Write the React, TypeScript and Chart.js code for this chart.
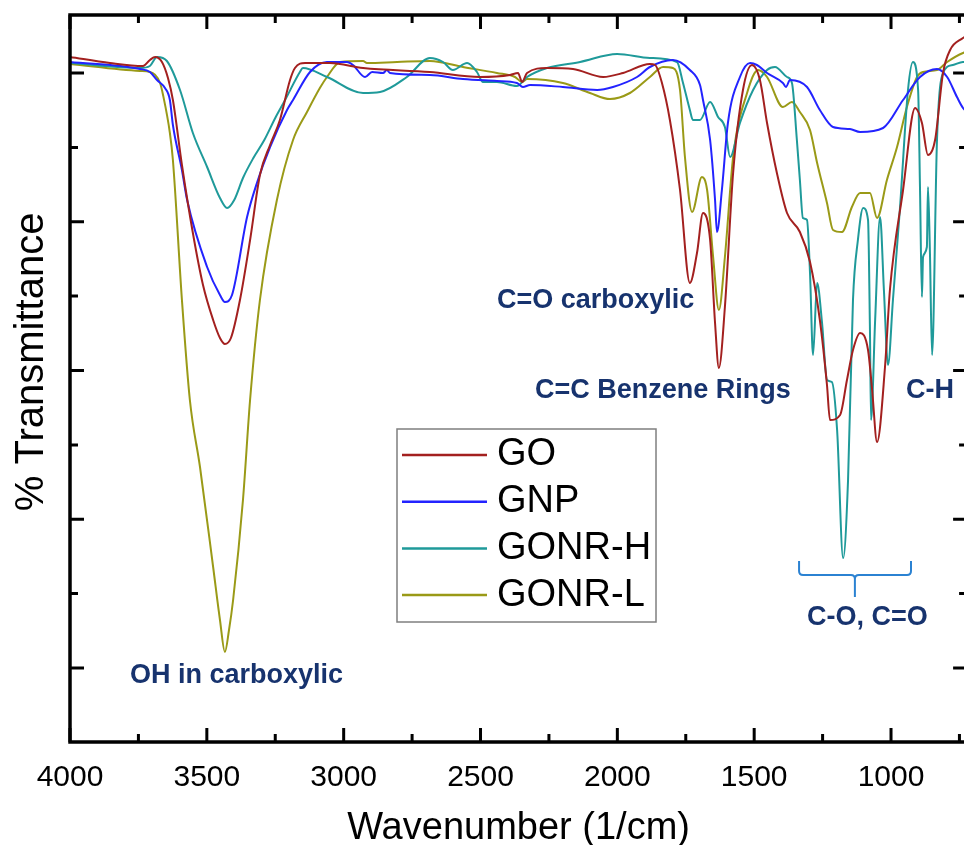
import React, { useEffect, useRef } from "react";
import { Chart, registerables } from "chart.js";

Chart.register(...registerables);

const FONT = "'Liberation Sans', Arial, sans-serif";

const SERIES_LABELS = ["GO", "GNP", "GONR-H", "GONR-L"];
const SERIES_COLORS = ["#a3201f", "#2323ff", "#1f9a9a", "#9a9a17"];

// Wavenumber (1/cm) and transmittance (arbitrary units)
const GO_WN = [4000,3854,3733,3708,3689,3664,3642,3624,3591,3551,3514,3477,3452,3434,3412,3379,3342,3306,3269,3233,3196,3178,3141,3050,2929,2685,2502,2392,2363,2348,2330,2257,2162,2052,1979,1881,1862,1837,1808,1771,1735,1709,1687,1661,1643,1629,1607,1577,1541,1508,1479,1453,1417,1380,1333,1296,1260,1234,1223,1186,1161,1139,1113,1084,1069,1051,1022,1004,956,912,887,865,839,810,784,737,722];
const GO_T = [611,605,602,608,611,606,590,568,503,435,383,348,330,324,330,368,428,493,523,548,588,600,605,605,600,596,591,593,595,586,595,600,599,591,595,604,603,585,548,478,385,415,455,428,345,300,361,495,578,603,588,545,495,455,436,406,348,283,248,253,288,318,335,318,278,226,301,378,478,560,545,513,528,595,618,630,633];

const GNP_WN = [4000,3744,3708,3682,3653,3635,3624,3591,3572,3499,3452,3434,3408,3353,3317,3269,3207,3185,3123,3061,2988,2966,2922,2896,2856,2842,2831,2685,2564,2440,2367,2345,2319,2199,2074,2016,1928,1881,1797,1735,1698,1687,1661,1643,1636,1618,1596,1552,1515,1490,1453,1395,1384,1369,1307,1260,1212,1150,1113,1029,956,894,832,795,759,737,722];
const GNP_T = [606,599,596,588,580,568,543,498,468,401,373,366,373,451,485,521,558,568,596,606,606,603,591,596,595,598,595,593,589,587,585,581,583,581,578,581,591,601,608,598,583,568,528,468,436,478,545,591,605,603,595,585,581,588,581,558,541,539,536,540,568,591,599,591,571,560,556];

const GONRH_WN = [4000,3744,3708,3682,3646,3598,3551,3499,3452,3426,3400,3368,3330,3290,3250,3214,3160,3149,3061,2929,2867,2769,2685,2637,2601,2549,2513,2491,2440,2367,2330,2257,2136,2001,1881,1782,1760,1735,1724,1698,1661,1632,1607,1588,1552,1504,1453,1424,1380,1362,1344,1333,1322,1307,1296,1285,1270,1252,1234,1216,1197,1175,1157,1139,1121,1102,1084,1077,1073,1058,1040,1026,1011,993,967,938,920,901,894,887,883,869,865,858,850,832,810,774,737,722];
const GONRH_T = [605,600,602,611,607,578,535,501,470,460,468,490,510,528,550,568,596,600,591,575,576,591,610,606,598,605,596,586,586,582,591,600,606,614,610,606,585,558,548,548,566,551,541,511,545,578,598,601,591,585,528,488,450,448,395,313,385,345,288,286,238,110,188,368,428,460,448,338,248,348,451,378,303,368,461,578,606,578,478,371,411,421,481,418,313,528,595,603,606,606];

const GONRL_WN = [4000,3744,3708,3671,3660,3635,3624,3591,3562,3525,3477,3452,3434,3419,3404,3368,3342,3306,3244,3185,3134,3087,3061,3013,2929,2915,2805,2685,2564,2440,2374,2348,2330,2199,2100,2027,1954,1881,1833,1797,1771,1753,1727,1691,1672,1650,1629,1607,1577,1526,1486,1453,1395,1362,1333,1296,1270,1234,1212,1179,1143,1113,1077,1051,1015,978,942,905,883,832,795,737,722];
const GONRL_T = [604,597,596,585,573,535,508,368,268,201,101,48,16,38,68,168,268,368,468,528,556,580,591,606,607,605,606,607,601,595,591,586,589,585,575,569,575,591,601,600,578,511,456,491,478,411,358,411,511,575,598,591,561,566,556,538,505,465,438,436,461,475,475,450,488,521,561,591,596,598,606,615,616];

const X_MIN = 722;
const X_MAX = 4000;
const Y_MIN = -74;
const Y_MAX = 653;
const X_MAJOR = [4000, 3500, 3000, 2500, 2000, 1500, 1000];
const X_MINOR = [3750, 3250, 2750, 2250, 1750, 1250, 750];
const Y_MAJOR = [0, 148.75, 297.5, 446.25, 595];
const Y_MINOR = [74.4, 223.1, 371.9, 520.6];

// Annotations: [text, left wavenumber, baseline transmittance]
const ANNOTATIONS: [string, number, number][] = [
  ["OH in carboxylic", 3781, -15],
  ["C=O carboxylic", 2440, 360],
  ["C=C Benzene Rings", 2301, 270],
  ["C-H", 945, 270],
  ["C-O, C=O", 1307, 43],
];
// Bracket: left wn, right wn, middle wn, end top T, bar T, spike T
const BRACKET = [1336, 927, 1132, 107, 93, 71];

function toPoints(wn: number[], t: number[]) {
  return wn.map((w, i) => ({ x: w, y: t[i] }));
}

const framePlugin = {
  id: "frameAndDecor",
  afterDatasetsDraw(chart: any) {
    const { ctx, chartArea, scales } = chart;
    const { left, right, top, bottom } = chartArea;
    const x = scales.x;
    const y = scales.y;
    ctx.save();

    // annotations
    ctx.fillStyle = "#17336e";
    ctx.font = `bold 27px ${FONT}`;
    ctx.textAlign = "left";
    ctx.textBaseline = "alphabetic";
    ANNOTATIONS.forEach(([txt, wn, t]) => {
      ctx.fillText(txt, x.getPixelForValue(wn), y.getPixelForValue(t));
    });

    // bracket
    const [bl, br, bm, bt, bh, bs] = BRACKET;
    const xl = x.getPixelForValue(bl);
    const xr = x.getPixelForValue(br);
    const xm = x.getPixelForValue(bm);
    const yt = y.getPixelForValue(bt);
    const yh = y.getPixelForValue(bh);
    const ys = y.getPixelForValue(bs);
    const r = 4;
    ctx.strokeStyle = "#2b82d2";
    ctx.lineWidth = 2;
    ctx.beginPath();
    ctx.moveTo(xl, yt);
    ctx.lineTo(xl, yh - r);
    ctx.quadraticCurveTo(xl, yh, xl + r, yh);
    ctx.lineTo(xm - r, yh);
    ctx.quadraticCurveTo(xm, yh, xm, yh + r);
    ctx.lineTo(xm, ys);
    ctx.moveTo(xm, yh + r);
    ctx.quadraticCurveTo(xm, yh, xm + r, yh);
    ctx.lineTo(xr - r, yh);
    ctx.quadraticCurveTo(xr, yh, xr, yh - r);
    ctx.lineTo(xr, yt);
    ctx.stroke();

    // legend
    const lx = left + 327;
    const ly = top + 414;
    const lw = 259;
    const lh = 193;
    ctx.fillStyle = "#ffffff";
    ctx.fillRect(lx, ly, lw, lh);
    ctx.strokeStyle = "#7f7f7f";
    ctx.lineWidth = 1.5;
    ctx.strokeRect(lx, ly, lw, lh);
    ctx.font = `38px ${FONT}`;
    ctx.textBaseline = "middle";
    chart.data.datasets.forEach((ds: any, i: number) => {
      const yy = ly + 26 + i * 46.7;
      ctx.strokeStyle = ds.borderColor;
      ctx.lineWidth = 2.5;
      ctx.beginPath();
      ctx.moveTo(lx + 5, yy);
      ctx.lineTo(lx + 90, yy);
      ctx.stroke();
      ctx.fillStyle = "#000";
      ctx.fillText(ds.label, lx + 100, yy);
    });

    // ticks (inward) and frame
    ctx.strokeStyle = "#000";
    ctx.lineWidth = 3;
    ctx.beginPath();
    const tick = (vals: number[], len: number) => {
      vals.forEach((v) => {
        const px = x.getPixelForValue(v);
        if (px < left - 1 || px > right + 1) return;
        ctx.moveTo(px, bottom);
        ctx.lineTo(px, bottom - len);
        ctx.moveTo(px, top);
        ctx.lineTo(px, top + len);
      });
    };
    const ytick = (vals: number[], len: number) => {
      vals.forEach((v) => {
        const py = y.getPixelForValue(v);
        ctx.moveTo(left, py);
        ctx.lineTo(left + len, py);
        ctx.moveTo(right, py);
        ctx.lineTo(right - len, py);
      });
    };
    tick(X_MAJOR, 14);
    tick(X_MINOR, 8);
    ytick(Y_MAJOR, 14);
    ytick(Y_MINOR, 8);
    ctx.stroke();
    ctx.lineWidth = 3.5;
    ctx.strokeRect(left, top, right - left, bottom - top);
    ctx.restore();
  },
};

export default function App() {
  const ref = useRef<HTMLCanvasElement>(null);
  useEffect(() => {
    if (!ref.current) return;
    const series = [
      toPoints(GO_WN, GO_T),
      toPoints(GNP_WN, GNP_T),
      toPoints(GONRH_WN, GONRH_T),
      toPoints(GONRL_WN, GONRL_T),
    ];
    const chart = new Chart(ref.current, {
      type: "line",
      data: {
        datasets: series.map((pts, i) => ({
          label: SERIES_LABELS[i],
          data: pts,
          borderColor: SERIES_COLORS[i],
          backgroundColor: SERIES_COLORS[i],
          borderWidth: 2,
          pointRadius: 0,
          fill: false,
          cubicInterpolationMode: "monotone" as const,
        })),
      },
      options: {
        animation: false,
        responsive: false,
        devicePixelRatio: 1,
        layout: { padding: { left: 0, top: 15, right: 7.9, bottom: 0 } },
        plugins: { legend: { display: false }, tooltip: { enabled: false } },
        scales: {
          x: {
            type: "linear",
            reverse: true,
            min: X_MIN,
            max: X_MAX,
            afterBuildTicks: (s: any) => {
              s.ticks = X_MAJOR.map((v) => ({ value: v }));
            },
            afterFit: (s: any) => {
              s.height = 103;
            },
            grid: { display: false },
            border: { display: false },
            ticks: {
              autoSkip: false,
              maxRotation: 0,
              padding: 10,
              color: "#000",
              font: { size: 30, family: FONT },
              callback: (v: any) => String(v),
            },
            title: {
              display: true,
              text: "Wavenumber (1/cm)",
              color: "#000",
              font: { size: 38, family: FONT, lineHeight: 0.85 },
              padding: { top: 0, bottom: 0 },
            },
          },
          y: {
            type: "linear",
            min: Y_MIN,
            max: Y_MAX,
            afterBuildTicks: (s: any) => {
              s.ticks = Y_MAJOR.map((v) => ({ value: v }));
            },
            afterFit: (s: any) => {
              s.width = 70;
            },
            grid: { display: false },
            border: { display: false },
            ticks: { display: false },
            title: {
              display: true,
              text: "   % Transmittance",
              color: "#000",
              font: { size: 40, family: FONT, lineHeight: 1 },
              padding: { top: 12, bottom: 0 },
            },
          },
        },
      },
      plugins: [framePlugin],
    });
    return () => chart.destroy();
  }, []);
  return (
    <div
      style={{
        position: "fixed",
        left: 0,
        top: 0,
        width: 964,
        height: 845,
        overflow: "hidden",
        background: "#fff",
      }}
    >
      <canvas ref={ref} width={975} height={845} style={{ width: 975, height: 845, display: "block" }} />
    </div>
  );
}
